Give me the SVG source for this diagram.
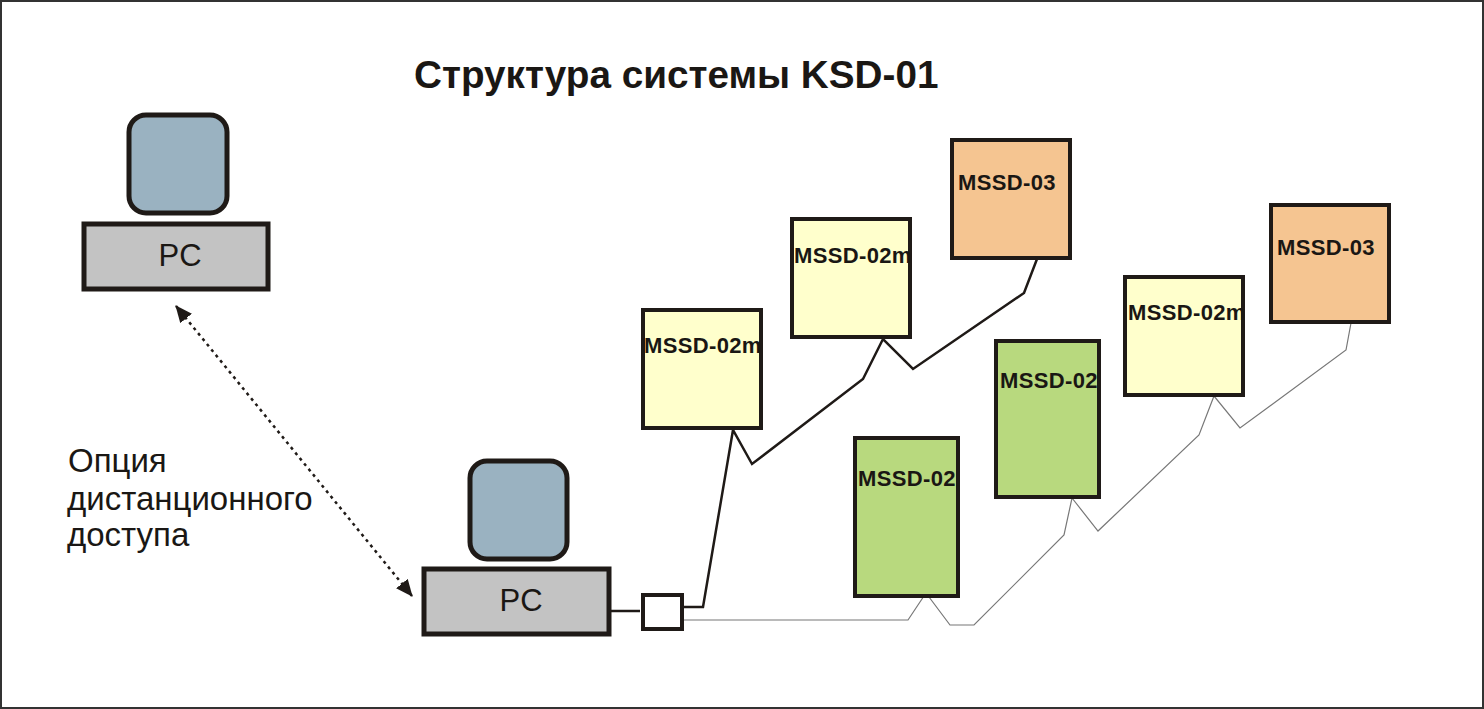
<svg xmlns="http://www.w3.org/2000/svg" width="1484" height="709" viewBox="0 0 1484 709">
<style>
text{font-family:"Liberation Sans",Arial,sans-serif;fill:#1a1714}
.box{stroke:#1f1a17;stroke-width:4}
.y{fill:#ffffcc}.g{fill:#b8d97e}.o{fill:#f5c591}
.lbl{font-size:22px;font-weight:bold;letter-spacing:.35px}
.pc{font-size:31px}
.opt{font-size:33px;letter-spacing:0}
.mon{fill:#9ab2c1;stroke:#1f1a17;stroke-width:5}
.base{fill:#c3c3c3;stroke:#1f1a17;stroke-width:5}
.blk{fill:none;stroke:#1f1a17;stroke-width:2.5;stroke-linejoin:miter}
.gry{fill:none;stroke:#777;stroke-width:1.2}
</style>
<defs>
<marker id="ah" markerUnits="userSpaceOnUse" markerWidth="18" markerHeight="16" refX="16" refY="7.5" orient="auto-start-reverse"><path d="M0 0L17 7.5L0 15Z" fill="#1f1a17"/></marker>
</defs>
<rect x="1" y="1" width="1482" height="707" fill="#fff" stroke="#333" stroke-width="2"/>
<text x="414" y="88" font-size="38.7" font-weight="bold" id="title">Структура системы KSD-01</text>
<g id="connectors">
<line x1="610" y1="611" x2="640" y2="611" class="blk" stroke-width="2"/>
<path class="blk" d="M683 607H703L733 430L752 464L863 379L883 339L913 369L1024 293L1037 259"/>
<path class="gry" d="M683 620H908L926 593L950 625H974L1064 535L1072 498L1098 531L1199 435L1214 396L1240 428L1346 350L1351 323"/>
<line x1="176" y1="306" x2="412" y2="596" stroke="#1f1a17" stroke-width="2.5" stroke-dasharray="3 4" marker-start="url(#ah)" marker-end="url(#ah)"/>
</g>
<g id="pc-remote">
<rect class="mon" x="129" y="115" width="98" height="98" rx="17"/>
<rect class="base" x="84" y="224" width="184" height="65"/>
<text class="pc" x="180" y="266" text-anchor="middle">PC</text>
</g>
<g id="pc-local">
<rect class="mon" x="470" y="461" width="97" height="98" rx="17"/>
<rect class="base" x="424" y="569" width="185" height="65"/>
<text class="pc" x="521" y="611" text-anchor="middle">PC</text>
</g>
<g id="option-label">
<text class="opt" x="68" y="472">Опция</text>
<text class="opt" x="67" y="510">дистанционного</text>
<text class="opt" x="67" y="546">доступа</text>
</g>
<g id="hub"><rect x="643" y="595" width="39" height="34" fill="#fff" stroke="#1f1a17" stroke-width="4"/></g>
<g id="m1"><rect class="box y" x="643" y="310" width="118" height="118"/><text class="lbl" x="644" y="353">MSSD-02m</text></g>
<g id="m2"><rect class="box y" x="792" y="219" width="118" height="118"/><text class="lbl" x="794" y="263">MSSD-02m</text></g>
<g id="m3"><rect class="box o" x="952" y="140" width="118" height="118"/><text class="lbl" x="958" y="190">MSSD-03</text></g>
<g id="m4"><rect class="box g" x="855" y="438" width="103" height="158"/><text class="lbl" x="858" y="486">MSSD-02</text></g>
<g id="m5"><rect class="box g" x="996" y="341" width="103" height="156"/><text class="lbl" x="1000" y="388">MSSD-02</text></g>
<g id="m6"><rect class="box y" x="1125" y="277" width="118" height="118"/><text class="lbl" x="1128" y="320">MSSD-02m</text></g>
<g id="m7"><rect class="box o" x="1271" y="205" width="118" height="117"/><text class="lbl" x="1277" y="255">MSSD-03</text></g>
</svg>
